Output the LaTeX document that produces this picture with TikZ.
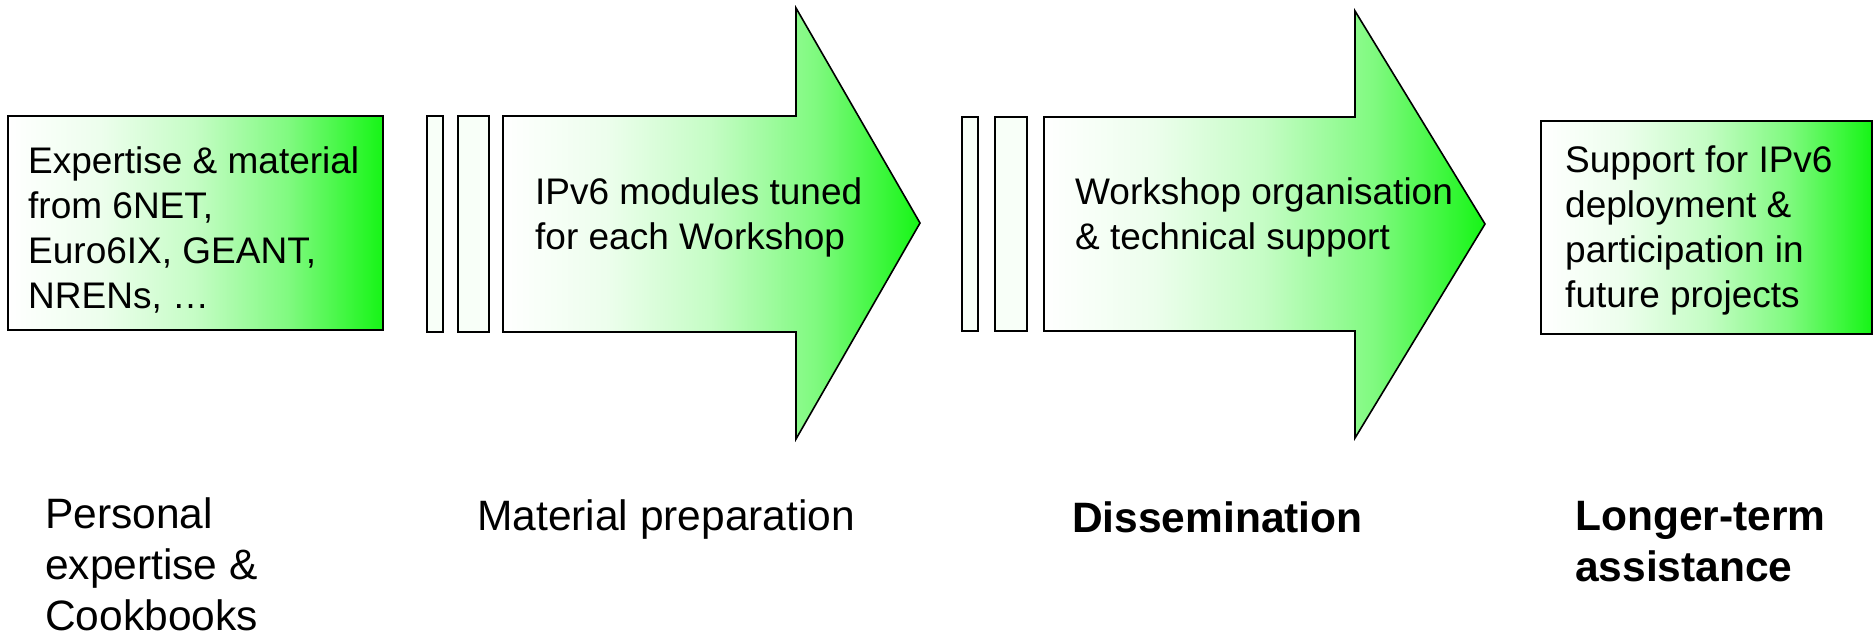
\documentclass[tikz,border=0pt]{standalone}
\usepackage{fontspec}
\setmainfont{Liberation Sans}
\definecolor{g}{RGB}{22,245,22}
\pgfdeclarehorizontalshading{wg}{100bp}{color(0bp)=(white); color(25bp)=(white); color(37.5bp)=(g!8!white); color(50bp)=(g!25!white); color(62.5bp)=(g!55!white); color(75bp)=(g); color(100bp)=(g)}
\tikzset{
  outl/.style={draw=black, line width=1.6pt, line join=miter},
  gshape/.style={outl, shading=wg},
  bar/.style={outl, fill=white!97!g},
  boxtxt/.style={anchor=base west, align=left, inner sep=0pt, font=\fontsize{37}{45}\selectfont},
  labtxt/.style={anchor=base west, align=left, inner sep=0pt, font=\fontsize{42.5}{51}\selectfont},
  labbold/.style={labtxt, font=\fontsize{42.5}{51}\selectfont\bfseries},
}
\begin{document}
\begin{tikzpicture}[x=1pt, y=-1pt]
\useasboundingbox (0,0) rectangle (1875,638);
% box 1
\shadedraw[gshape] (8,116) rectangle (383,330);
\node[boxtxt] (t1) at (28,308) {Expertise \& material\\from 6NET,\\Euro6IX, GEANT,\\NRENs, …};
% arrow 1
\draw[bar] (427,116) rectangle (443,332);
\draw[bar] (458,116) rectangle (489,332);
\shadedraw[gshape] (503,116) -- (796,116) -- (796,8) -- (920,223) -- (796,439) -- (796,332) -- (503,332) -- cycle;
\node[boxtxt] (t2) at (535,249) {IPv6 modules tuned\\for each Workshop};
% arrow 2
\draw[bar] (962,117) rectangle (978,331);
\draw[bar] (995,117) rectangle (1027,331);
\shadedraw[gshape] (1044,117) -- (1355,117) -- (1355,11) -- (1485,224) -- (1355,438) -- (1355,331) -- (1044,331) -- cycle;
\node[boxtxt] (t3) at (1075,249) {Workshop organisation\\\& technical support};
% box 4
\shadedraw[gshape] (1541,121) rectangle (1872,334);
\node[boxtxt] (t4) at (1565,307) {Support for IPv6\\deployment \&\\participation in\\future projects};
% labels
\node[labtxt] (l1) at (45,630) {Personal\\expertise \&\\Cookbooks};
\node[labtxt] (l2) at (477,530) {Material preparation};
\node[labbold] (l3) at (1072,532) {Dissemination};
\node[labbold] (l4) at (1575,581) {Longer-term\\assistance};
\end{tikzpicture}
\end{document}
